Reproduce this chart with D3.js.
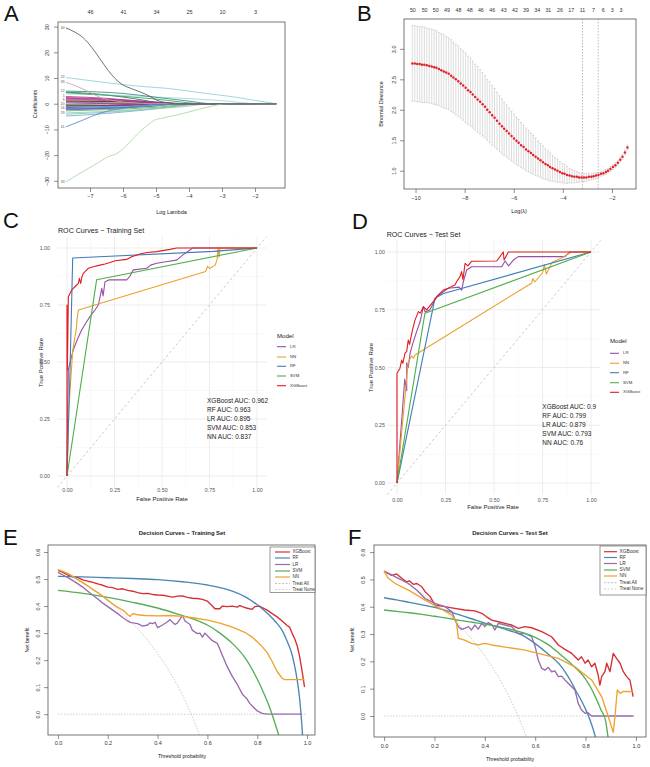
<!DOCTYPE html>
<html><head><meta charset="utf-8">
<script src="https://cdn.jsdelivr.net/npm/d3@7"></script>
<style>body{margin:0;background:#fff}svg{display:block}text{font-family:"Liberation Sans",Arial,sans-serif}</style>
</head><body><svg id="chart" width="650" height="767"></svg>
<script>
// ================= DATA =================
// Panel A: lasso coefficient paths (knots: [log lambda, coefficient])
const aTicksX = [-7,-6,-5,-4,-3,-2];
const aTopLabels = [46,41,34,25,10,3];
const aTicksY = [-30,-20,-10,0,10,20,30];
const aEndLambda = -1.36;
const aPaths = [
 {id:"40",col:"#555555",pts:[[-7.73,29.5],[-7.45,27.8],[-7.2,25.6],[-6.95,22],[-6.7,17.5],[-6.45,13],[-6.24,9.8],[-6.0,7.3],[-5.75,5.9],[-5.48,4.6],[-5.2,3.0],[-4.98,1.4],[-4.68,0.4],[-4.4,0]]},
 {id:"33",col:"#a9d79f",pts:[[-7.73,-30.4],[-7.4,-27.8],[-7.05,-25.2],[-6.7,-22.5],[-6.45,-20.6],[-6.2,-19.5],[-6.04,-18],[-5.8,-15],[-5.54,-11.5],[-5.25,-8.3],[-5.03,-6.3],[-4.8,-5.6],[-4.64,-5.1],[-4.3,-4.2],[-3.97,-3.1],[-3.46,-1.4],[-2.96,-0.1],[-2.8,0]]},
 {id:"22",col:"#8fcfd6",pts:[[-7.73,10.2],[-6.5,8.2],[-5.5,6.8],[-4.68,6.0],[-3.6,4.2],[-2.67,2.7],[-2.0,1.3],[-1.36,0]]},
 {id:"39",col:"#c9a0a3",pts:[[-7.73,8.3],[-7.4,6.8],[-7.05,4.7],[-6.6,2.0],[-6.2,1.0],[-5.6,0.3],[-5.2,0]]},
 {id:"12",col:"#2b8c88",pts:[[-7.73,4.9],[-6.8,4.6],[-6.0,4.0],[-5.0,2.5],[-4.0,1.0],[-3.3,0]]},
 {id:"41",col:"#5b86bd",pts:[[-7.73,-9.0],[-7.2,-6.3],[-6.7,-3.7],[-6.0,-1.8],[-5.3,-0.6],[-4.9,0]]},
 {id:"18",col:"#3c9e4c",pts:[[-7.73,4.3],[-6.5,3.3],[-5.0,1.8],[-4.2,0.6],[-3.6,0]]},
 {id:"27",col:"#9ad8de",pts:[[-7.73,3.8],[-6.0,3.2],[-5.0,2.6],[-3.0,1.2],[-1.9,0]]},
 {id:"5",col:"#c0308a",pts:[[-7.73,2.8],[-6.5,2.1],[-5.5,1.0],[-4.6,0]]},
 {id:"31",col:"#7b3fa0",pts:[[-7.73,2.1],[-6.3,1.6],[-5.0,0.7],[-4.3,0]]},
 {id:"9",col:"#d0409a",pts:[[-7.73,1.5],[-6.0,1.1],[-4.8,0.4],[-4.1,0]]},
 {id:"2",col:"#222222",pts:[[-7.73,1.0],[-6.5,0.9],[-5.2,0.6],[-4.5,0.2],[-4.0,0]]},
 {id:"14",col:"#d05050",pts:[[-7.73,0.6],[-6.0,0.3],[-5.0,0]]},
 {id:"36",col:"#3060c0",pts:[[-7.73,0.3],[-6.8,0.1],[-6.2,0]]},
 {id:"20",col:"#50b050",pts:[[-7.73,-0.3],[-7.0,-0.2],[-6.4,0]]},
 {id:"7",col:"#b02080",pts:[[-7.73,-0.8],[-6.2,-0.6],[-5.2,-0.3],[-4.7,0]]},
 {id:"25",col:"#40c0d0",pts:[[-7.73,-1.2],[-6.0,-1.0],[-4.8,-0.6],[-3.6,0]]},
 {id:"16",col:"#4070c0",pts:[[-7.73,-1.8],[-6.3,-1.4],[-5.2,-0.8],[-4.0,0]]},
 {id:"44",col:"#8050b0",pts:[[-7.73,-2.3],[-6.5,-1.9],[-5.5,-1.0],[-4.5,0]]},
 {id:"3",col:"#60b060",pts:[[-7.73,-2.8],[-6.5,-2.3],[-5.0,-1.4],[-3.7,0]]},
 {id:"29",col:"#98d090",pts:[[-7.73,-3.6],[-6.5,-3.0],[-5.5,-2.3],[-4.2,-1.2],[-3.3,0]]},
 {id:"11",col:"#70c8d8",pts:[[-7.73,-4.1],[-6.5,-3.3],[-5.5,-2.4],[-4.5,-1.2],[-3.5,0]]},
 {id:"34",col:"#80a8d8",pts:[[-7.73,-4.8],[-6.5,-3.8],[-5.0,-2.0],[-3.6,0]]},
 {id:"6",col:"#c04090",pts:[[-7.73,1.8],[-6.8,1.5],[-5.8,0.8],[-5.0,0]]},
 {id:"23",col:"#6a3a9a",pts:[[-7.73,-1.5],[-6.8,-1.2],[-5.8,-0.6],[-5.1,0]]},
 {id:"47",col:"#1f6f70",pts:[[-7.73,4.5],[-6.8,3.8],[-6.0,2.6],[-5.3,1.2],[-4.8,0]]},
 {id:"1",col:"#333333",pts:[[-7.73,-0.5],[-6.5,-0.6],[-5.5,-0.4],[-4.9,0]]},
 {id:"30",col:"#d04060",pts:[[-7.73,2.4],[-6.6,1.9],[-5.8,1.2],[-4.9,0]]},
 {id:"15",col:"#3070b0",pts:[[-7.73,-2.0],[-6.0,-1.6],[-5.0,-0.9],[-4.4,0]]},
 {id:"8",col:"#c0b040",pts:[[-7.73,1.2],[-6.5,0.8],[-5.5,0.3],[-5.0,0]]},
 {id:"21",col:"#a02878",pts:[[-7.73,-1.0],[-7.0,-0.9],[-6.0,-0.4],[-5.5,0]]}
];

// Panel B: cross-validation curve
const bLogLambda = [-10.13,-10.03,-9.93,-9.83,-9.74,-9.64,-9.54,-9.44,-9.34,-9.24,
 -9.15,-9.05,-8.95,-8.85,-8.75,-8.65,-8.55,-8.46,-8.36,-8.26,
 -8.16,-8.06,-7.96,-7.86,-7.76,-7.67,-7.57,-7.47,-7.37,-7.27,
 -7.17,-7.08,-6.98,-6.88,-6.78,-6.68,-6.58,-6.48,-6.39,-6.29,
 -6.19,-6.09,-5.99,-5.89,-5.80,-5.70,-5.60,-5.50,-5.40,-5.30,
 -5.21,-5.11,-5.01,-4.91,-4.81,-4.71,-4.61,-4.52,-4.42,-4.32,
 -4.22,-4.12,-4.02,-3.93,-3.83,-3.73,-3.63,-3.53,-3.43,-3.34,
 -3.24,-3.14,-3.04,-2.94,-2.84,-2.75,-2.65,-2.55,-2.45,-2.35,
 -2.25,-2.16,-2.06,-1.96,-1.86,-1.76,-1.66,-1.57,-1.47,-1.37];
const bMean = [2.76,2.76,2.75,2.75,2.74,2.74,2.73,2.72,2.71,2.70,
 2.69,2.67,2.65,2.63,2.61,2.59,2.56,2.53,2.50,2.47,
 2.43,2.40,2.36,2.32,2.29,2.25,2.21,2.17,2.13,2.09,
 2.05,2.00,1.96,1.91,1.87,1.82,1.77,1.73,1.69,1.65,
 1.61,1.57,1.53,1.49,1.46,1.42,1.39,1.35,1.32,1.29,
 1.26,1.23,1.20,1.17,1.14,1.11,1.09,1.06,1.04,1.02,
 1.00,0.98,0.96,0.95,0.93,0.92,0.91,0.90,0.90,0.89,
 0.89,0.89,0.89,0.90,0.90,0.91,0.92,0.93,0.95,0.96,
 0.98,1.00,1.03,1.06,1.09,1.13,1.18,1.23,1.30,1.38];
const bSE = [0.62,0.62,0.62,0.62,0.62,0.62,0.61,0.61,0.61,0.61,
 0.61,0.60,0.60,0.60,0.59,0.59,0.59,0.58,0.58,0.58,
 0.57,0.57,0.57,0.56,0.56,0.55,0.54,0.54,0.53,0.52,
 0.51,0.50,0.50,0.49,0.48,0.47,0.46,0.45,0.44,0.43,
 0.42,0.41,0.40,0.39,0.38,0.37,0.36,0.35,0.34,0.33,
 0.32,0.31,0.29,0.28,0.27,0.25,0.24,0.23,0.21,0.20,
 0.19,0.17,0.16,0.15,0.14,0.12,0.11,0.10,0.09,0.08,
 0.07,0.07,0.06,0.06,0.05,0.05,0.05,0.04,0.04,0.04,
 0.04,0.04,0.04,0.04,0.04,0.04,0.04,0.04,0.04,0.04];
const bTopPos = [-10.13,-9.65,-9.20,-8.74,-8.27,-7.81,-7.36,-6.90,-6.43,-5.97,-5.52,-5.06,-4.61,-4.14,-3.68,-3.22,-2.77,-2.38,-2.01,-1.65];
const bTopLabels = [50,50,50,49,48,48,46,46,43,42,39,34,31,26,17,11,7,6,3,3];
const bTicksX = [-10,-8,-6,-4,-2];
const bTicksY = [1.0,1.5,2.0,2.5,3.0];
const bVLines = [-3.20,-2.56];

// Panels C, D: ROC curves ([FPR, TPR])
const models = ["LR","NN","RF","SVM","XGBoost"];
const rocTrainLR = [[0,0],[0.004,0.30],[0.007,0.465],[0.02,0.51],[0.033,0.553],[0.055,0.60],[0.077,0.64],[0.10,0.672],[0.121,0.699],[0.147,0.728],[0.165,0.75],[0.174,0.786],[0.183,0.823],[0.19,0.79],[0.20,0.852],[0.22,0.86],[0.314,0.86],[0.33,0.875],[0.349,0.904],[0.42,0.911],[0.44,0.925],[0.472,0.933],[0.52,0.94],[0.577,0.947],[0.61,0.97],[0.647,0.991],[0.66,1],[1,1]];
const rocTrainNN = [[0,0],[0.01,0.3],[0.03,0.55],[0.042,0.611],[0.05,0.65],[0.052,0.68],[0.055,0.70],[0.06,0.728],[0.73,0.897],[0.74,0.92],[0.75,0.91],[0.78,0.925],[0.79,0.95],[0.795,1.0],[0.80,0.96],[0.805,1.0],[1,1]];
const rocTrainRF = [[0,0],[0.016,0.465],[0.03,0.956],[0.77,0.985],[1,1]];
const rocTrainSVM = [[0,0],[0.156,0.861],[1,1]];
const rocTrainXGB = [[0,0],[0,0.75],[0.002,0.465],[0.007,0.786],[0.025,0.816],[0.042,0.83],[0.06,0.845],[0.065,0.867],[0.072,0.845],[0.079,0.874],[0.086,0.889],[0.112,0.911],[0.138,0.918],[0.174,0.925],[0.2,0.93],[0.226,0.936],[0.253,0.944],[0.314,0.95],[0.34,0.962],[0.384,0.974],[0.42,0.98],[0.472,0.984],[0.542,0.994],[0.577,1],[1,1]];
const rocTestLR = [[0,0],[0.04,0.45],[0.05,0.40],[0.05,0.52],[0.058,0.50],[0.067,0.56],[0.08,0.60],[0.101,0.655],[0.119,0.698],[0.136,0.763],[0.145,0.74],[0.17,0.75],[0.205,0.807],[0.239,0.828],[0.263,0.843],[0.32,0.848],[0.333,0.835],[0.342,0.871],[0.359,0.922],[0.385,0.936],[0.54,0.936],[0.557,0.961],[0.575,0.94],[0.60,0.965],[0.625,0.98],[0.866,0.98],[0.89,1],[1,1]];
const rocTestNN = [[0,0],[0.058,0.525],[0.065,0.535],[0.076,0.55],[0.085,0.54],[0.093,0.554],[0.695,0.866],[0.70,0.885],[0.71,0.87],[0.75,0.91],[0.76,0.945],[0.77,0.905],[0.80,0.955],[0.85,0.975],[0.90,1],[1,1]];
const rocTestRF = [[0,0],[0.196,0.80],[0.24,0.82],[1,1]];
const rocTestSVM = [[0,0],[0.144,0.735],[1,1]];
const rocTestXGB = [[0,0],[0,0.475],[0.015,0.496],[0.024,0.532],[0.03,0.518],[0.041,0.561],[0.05,0.57],[0.058,0.619],[0.065,0.60],[0.076,0.648],[0.084,0.677],[0.093,0.706],[0.10,0.72],[0.11,0.742],[0.12,0.735],[0.136,0.763],[0.153,0.749],[0.187,0.785],[0.213,0.814],[0.239,0.835],[0.264,0.843],[0.28,0.85],[0.299,0.857],[0.307,0.871],[0.325,0.893],[0.333,0.915],[0.34,0.88],[0.351,0.951],[0.365,0.94],[0.385,0.96],[0.514,0.961],[0.548,1],[0.552,0.965],[0.574,1],[1,1]];
const aucOrder = ["XGBoost","RF","LR","SVM","NN"];
const aucTrain = ["0.962","0.963","0.895","0.853","0.837"];
const aucTest = ["0.9","0.799","0.879","0.793","0.76"];
const rocMajor = [0,0.25,0.5,0.75,1];
const rocMinor = [0.125,0.375,0.625,0.875];

// Panels E, F: decision curves ([threshold, net benefit])
const dcaNames = ["XGBoost","RF","LR","SVM","NN","Treat All","Treat None"];
const dcaTrainXGB = [[0,0.532],[0.02,0.525],[0.04,0.515],[0.06,0.508],[0.08,0.505],[0.10,0.497],[0.12,0.492],[0.14,0.488],[0.16,0.482],[0.18,0.477],[0.20,0.470],[0.22,0.468],[0.24,0.462],[0.26,0.464],[0.28,0.458],[0.30,0.455],[0.32,0.450],[0.34,0.446],[0.36,0.447],[0.38,0.443],[0.40,0.441],[0.42,0.440],[0.44,0.437],[0.46,0.433],[0.48,0.437],[0.50,0.438],[0.52,0.432],[0.54,0.429],[0.56,0.428],[0.58,0.425],[0.60,0.418],[0.62,0.400],[0.63,0.390],[0.65,0.390],[0.66,0.400],[0.68,0.398],[0.70,0.400],[0.72,0.396],[0.73,0.402],[0.74,0.398],[0.76,0.392],[0.78,0.388],[0.79,0.398],[0.81,0.400],[0.82,0.394],[0.84,0.385],[0.86,0.372],[0.88,0.360],[0.90,0.345],[0.92,0.328],[0.93,0.322],[0.94,0.300],[0.95,0.280],[0.96,0.255],[0.97,0.215],[0.98,0.160],[0.99,0.100]];
const dcaTrainRF = [[0,0.51],[0.1,0.508],[0.2,0.505],[0.3,0.502],[0.4,0.498],[0.5,0.49],[0.6,0.478],[0.7,0.455],[0.75,0.435],[0.8,0.405],[0.85,0.365],[0.88,0.335],[0.9,0.31],[0.92,0.27],[0.94,0.22],[0.95,0.18],[0.96,0.13],[0.97,0.06],[0.98,-0.05],[0.99,-0.2]];
const dcaTrainLR = [[0,0.525],[0.02,0.515],[0.04,0.505],[0.06,0.494],[0.08,0.482],[0.10,0.470],[0.12,0.455],[0.14,0.440],[0.16,0.426],[0.18,0.411],[0.20,0.398],[0.22,0.385],[0.24,0.372],[0.26,0.358],[0.28,0.345],[0.29,0.340],[0.30,0.338],[0.32,0.335],[0.34,0.326],[0.36,0.330],[0.37,0.338],[0.38,0.335],[0.39,0.340],[0.40,0.320],[0.42,0.330],[0.44,0.342],[0.45,0.350],[0.46,0.340],[0.47,0.332],[0.48,0.338],[0.49,0.352],[0.50,0.365],[0.51,0.345],[0.53,0.332],[0.54,0.310],[0.56,0.298],[0.57,0.300],[0.58,0.285],[0.59,0.300],[0.60,0.290],[0.62,0.272],[0.64,0.262],[0.65,0.240],[0.66,0.218],[0.68,0.175],[0.70,0.140],[0.72,0.110],[0.74,0.075],[0.75,0.065],[0.76,0.055],[0.77,0.040],[0.78,0.030],[0.80,0.012],[0.82,0.003],[0.84,0],[0.98,0]];
const dcaTrainSVM = [[0,0.458],[0.1,0.447],[0.2,0.432],[0.3,0.414],[0.4,0.393],[0.5,0.365],[0.55,0.35],[0.6,0.33],[0.65,0.30],[0.7,0.262],[0.75,0.21],[0.8,0.13],[0.83,0.07],[0.85,0.025],[0.87,-0.03],[0.89,-0.09],[0.9,-0.13]];
const dcaTrainNN = [[0,0.535],[0.02,0.528],[0.04,0.520],[0.06,0.510],[0.08,0.498],[0.10,0.487],[0.12,0.475],[0.14,0.462],[0.16,0.450],[0.18,0.437],[0.20,0.422],[0.22,0.408],[0.24,0.395],[0.26,0.385],[0.27,0.378],[0.28,0.368],[0.29,0.362],[0.30,0.372],[0.32,0.368],[0.35,0.365],[0.40,0.364],[0.45,0.365],[0.50,0.362],[0.55,0.356],[0.60,0.348],[0.65,0.337],[0.70,0.322],[0.75,0.303],[0.78,0.285],[0.80,0.268],[0.82,0.250],[0.84,0.228],[0.86,0.195],[0.88,0.158],[0.90,0.133],[0.91,0.128],[0.99,0.128]];
const dcaTrainAll = [[0,0.535],[0.05,0.511],[0.1,0.483],[0.15,0.453],[0.2,0.419],[0.25,0.380],[0.3,0.336],[0.35,0.285],[0.4,0.225],[0.45,0.155],[0.5,0.070],[0.55,-0.033],[0.6,-0.163]];
const dcaTrainNone = [[0,0],[1,0]];
const dcaTestXGB = [[0,0.53],[0.03,0.515],[0.05,0.52],[0.07,0.504],[0.09,0.49],[0.10,0.495],[0.116,0.482],[0.13,0.485],[0.15,0.473],[0.163,0.455],[0.183,0.437],[0.202,0.406],[0.229,0.402],[0.269,0.396],[0.32,0.388],[0.36,0.385],[0.388,0.376],[0.407,0.363],[0.427,0.351],[0.454,0.345],[0.48,0.339],[0.507,0.333],[0.533,0.321],[0.56,0.327],[0.586,0.323],[0.626,0.309],[0.665,0.29],[0.692,0.26],[0.718,0.244],[0.745,0.229],[0.771,0.205],[0.784,0.217],[0.798,0.193],[0.81,0.205],[0.824,0.18],[0.837,0.193],[0.85,0.15],[0.857,0.113],[0.864,0.144],[0.877,0.162],[0.884,0.193],[0.897,0.162],[0.91,0.229],[0.923,0.211],[0.937,0.193],[0.95,0.162],[0.963,0.144],[0.976,0.132],[0.989,0.071]];
const dcaTestRF = [[0,0.433],[0.05,0.425],[0.1,0.416],[0.15,0.407],[0.2,0.398],[0.25,0.385],[0.3,0.370],[0.35,0.355],[0.4,0.340],[0.45,0.326],[0.5,0.312],[0.55,0.295],[0.6,0.265],[0.65,0.228],[0.7,0.185],[0.72,0.160],[0.74,0.130],[0.76,0.095],[0.78,0.062],[0.80,0.025],[0.82,-0.02],[0.84,-0.08],[0.85,-0.12]];
const dcaTestLR = [[0,0.53],[0.057,0.504],[0.097,0.485],[0.13,0.46],[0.163,0.43],[0.202,0.412],[0.242,0.4],[0.269,0.382],[0.282,0.351],[0.295,0.327],[0.308,0.317],[0.322,0.322],[0.335,0.327],[0.347,0.315],[0.36,0.333],[0.374,0.318],[0.388,0.339],[0.40,0.327],[0.414,0.342],[0.427,0.335],[0.44,0.315],[0.454,0.339],[0.48,0.333],[0.507,0.327],[0.533,0.302],[0.56,0.302],[0.586,0.29],[0.6,0.254],[0.612,0.205],[0.626,0.174],[0.639,0.168],[0.652,0.178],[0.665,0.162],[0.678,0.165],[0.692,0.144],[0.705,0.146],[0.718,0.132],[0.745,0.107],[0.758,0.095],[0.771,0.046],[0.784,0.022],[0.798,0.01],[0.81,0.012],[0.824,0],[0.99,0]];
const dcaTestSVM = [[0,0.388],[0.05,0.383],[0.1,0.378],[0.15,0.372],[0.2,0.365],[0.25,0.358],[0.3,0.350],[0.35,0.343],[0.4,0.336],[0.45,0.328],[0.5,0.318],[0.55,0.305],[0.6,0.288],[0.65,0.262],[0.7,0.225],[0.75,0.185],[0.78,0.158],[0.8,0.135],[0.82,0.105],[0.84,0.068],[0.86,0.025],[0.88,-0.02],[0.89,-0.08],[0.9,-0.12]];
const dcaTestNN = [[0,0.53],[0.017,0.504],[0.044,0.485],[0.097,0.461],[0.163,0.424],[0.229,0.39],[0.269,0.37],[0.288,0.339],[0.295,0.284],[0.32,0.278],[0.347,0.266],[0.374,0.26],[0.40,0.266],[0.427,0.26],[0.56,0.241],[0.692,0.211],[0.758,0.18],[0.824,0.132],[0.864,0.071],[0.89,-0.002],[0.91,-0.06],[0.917,0.0],[0.926,0.095],[0.937,0.083],[0.95,0.09],[0.99,0.089]];
const dcaTestAll = [[0,0.532],[0.05,0.507],[0.1,0.480],[0.15,0.449],[0.2,0.415],[0.25,0.376],[0.3,0.331],[0.35,0.280],[0.4,0.220],[0.45,0.149],[0.5,0.064],[0.55,-0.040],[0.6,-0.17]];
const dcaTestNone = [[0,0],[1,0]];
const dcaTicksX = [0,0.2,0.4,0.6,0.8,1.0];
const dcaTicksY = [0,0.1,0.2,0.3,0.4,0.5,0.6];

// ================= DRAWING =================
const FONT = "'Liberation Sans', Arial, sans-serif";
const svg = d3.select("#chart");
svg.append("rect").attr("width",650).attr("height",767).attr("fill","#fff");

function txt(g,x,y,s,fs,o={}){
  const t=g.append("text").attr("x",x).attr("y",y).text(s).attr("font-size",fs).attr("fill",o.fill||"#222").attr("font-family",o.family||FONT);
  if(o.anchor) t.attr("text-anchor",o.anchor);
  if(o.weight) t.attr("font-weight",o.weight);
  if(o.base) t.attr("dominant-baseline",o.base);
  if(o.rot) t.attr("transform",`rotate(-90,${x},${y})`);
  return t;
}
function letter(s,x,y){ txt(svg,x,y,s,22,{family:"'Liberation Serif','Times New Roman',serif",fill:"#111"}); }
function rStyle(sel,fs){
  sel.select(".domain").remove();
  sel.selectAll(".tick line").attr("stroke","#444").attr("stroke-width",0.6);
  sel.selectAll(".tick text").attr("font-size",fs).attr("fill","#333").attr("font-family",FONT);
}
function rotLeft(sel,k){
  sel.selectAll(".tick text").attr("x",null).attr("dy",null).attr("text-anchor","middle")
    .attr("transform",`translate(${-k},0) rotate(-90)`);
}
function box(g,x0,y0,x1,y1){ g.append("rect").attr("x",x0).attr("y",y0).attr("width",x1-x0).attr("height",y1-y0).attr("fill","none").attr("stroke","#555").attr("stroke-width",0.8); }

// ---------- Panel A
(function(){
  const g=svg.append("g");
  const L=58,R=285,T=22,B=188;
  const x=d3.scaleLinear().domain([-7.97,-1.09]).range([L,R]);
  const y=d3.scaleLinear().domain([-32.8,31.8]).range([B,T]);
  g.append("clipPath").attr("id","clipA").append("rect").attr("x",L).attr("y",T).attr("width",R-L).attr("height",B-T);
  const pg=g.append("g").attr("clip-path","url(#clipA)");
  const line=d3.line().x(d=>x(d[0])).y(d=>y(d[1])).curve(d3.curveMonotoneX);
  aPaths.slice().reverse().forEach(p=>{
    const pts=p.pts.slice();
    if(pts[pts.length-1][0]<aEndLambda-0.01) pts.push([aEndLambda,0]);
    pg.append("path").attr("d",line(pts)).attr("fill","none").attr("stroke",p.col).attr("stroke-width",0.85);
  });
  // variable labels at left end (skip ones that would sit on top of another)
  const sorted=aPaths.slice().sort((a,b)=>b.pts[0][1]-a.pts[0][1]);
  let lastY=-1e9;
  sorted.forEach(p=>{
    const yy=y(p.pts[0][1]);
    if(yy-lastY>=3.3){ txt(g,x(p.pts[0][0])-1.5,yy,p.id,3.2,{anchor:"end",base:"middle",fill:"#444"}); lastY=yy; }
  });
  box(g,L,T,R,B);
  const ax=g.append("g").attr("transform",`translate(0,${B})`).call(d3.axisBottom(x).tickValues(aTicksX).tickSize(4).tickPadding(2.5).tickFormat(d3.format("d")));
  rStyle(ax,5.5);
  const at=g.append("g").attr("transform",`translate(0,${T})`).call(d3.axisTop(x).tickValues(aTicksX).tickSize(0).tickPadding(8).tickFormat((d,i)=>aTopLabels[i]));
  rStyle(at,5.5);
  const ay=g.append("g").attr("transform",`translate(${L},0)`).call(d3.axisLeft(y).tickValues(aTicksY).tickSize(4).tickFormat(d3.format("d")));
  rStyle(ay,5.5); rotLeft(ay,9);
  txt(g,171.5,213.5,"Log Lambda",5.5,{anchor:"middle"});
  txt(g,36.5,104,"Coefficients",5.5,{anchor:"middle",rot:true});
})();
letter("A",4,21);

// ---------- Panel B
(function(){
  const g=svg.append("g");
  const L=404,R=636,T=19,B=189;
  const x=d3.scaleLinear().domain([-10.47,-1.02]).range([L,R]);
  const y=d3.scaleLinear().domain([0.70,3.49]).range([B,T]);
  bLogLambda.forEach((l,i)=>{
    const hi=y(bMean[i]+bSE[i]), lo=y(bMean[i]-bSE[i]), xx=x(l);
    g.append("line").attr("x1",xx).attr("x2",xx).attr("y1",hi).attr("y2",lo).attr("stroke","#c4c4c4").attr("stroke-width",0.6);
    g.append("line").attr("x1",xx-1.1).attr("x2",xx+1.1).attr("y1",hi).attr("y2",hi).attr("stroke","#c4c4c4").attr("stroke-width",0.6);
    g.append("line").attr("x1",xx-1.1).attr("x2",xx+1.1).attr("y1",lo).attr("y2",lo).attr("stroke","#c4c4c4").attr("stroke-width",0.6);
  });
  bVLines.forEach(v=>g.append("line").attr("x1",x(v)).attr("x2",x(v)).attr("y1",T).attr("y2",B).attr("stroke","#8a8a8a").attr("stroke-width",0.6).attr("stroke-dasharray","1.5,1.5"));
  bLogLambda.forEach((l,i)=>g.append("circle").attr("cx",x(l)).attr("cy",y(bMean[i])).attr("r",1.25).attr("fill","#e0232a"));
  box(g,L,T,R,B);
  const ax=g.append("g").attr("transform",`translate(0,${B})`).call(d3.axisBottom(x).tickValues(bTicksX).tickSize(4).tickPadding(3.5).tickFormat(d3.format("d")));
  rStyle(ax,5.5);
  const at=g.append("g").attr("transform",`translate(0,${T})`).call(d3.axisTop(x).tickValues(bTopPos).tickSize(0).tickPadding(7.5).tickFormat((d,i)=>bTopLabels[i]));
  rStyle(at,5.3);
  const ay=g.append("g").attr("transform",`translate(${L},0)`).call(d3.axisLeft(y).tickValues(bTicksY).tickSize(4).tickFormat(d3.format(".1f")));
  rStyle(ay,5.5); rotLeft(ay,8.5);
  txt(g,519,213,"Log(\u03bb)",5.5,{anchor:"middle"});
  txt(g,382.5,104,"Binomial Deviance",5.5,{anchor:"middle",rot:true});
})();
letter("B",357,21);

// ---------- ROC panels
const rocCols = ["#984EA3","#EBA12E","#3F7DB6","#4DAF4A","#E41A1C"];
function rocPanel(o){
  const g=svg.append("g");
  const x=d3.scaleLinear().domain([-0.05,1.05]).range(o.xr);
  const y=d3.scaleLinear().domain([-0.05,1.05]).range(o.yr);
  const [L,R]=o.xr, [B,T]=o.yr;
  rocMinor.forEach(v=>{
    g.append("line").attr("x1",x(v)).attr("x2",x(v)).attr("y1",T).attr("y2",B).attr("stroke","#f2f2f2").attr("stroke-width",0.5);
    g.append("line").attr("x1",L).attr("x2",R).attr("y1",y(v)).attr("y2",y(v)).attr("stroke","#f2f2f2").attr("stroke-width",0.5);
  });
  rocMajor.forEach(v=>{
    g.append("line").attr("x1",x(v)).attr("x2",x(v)).attr("y1",T).attr("y2",B).attr("stroke","#e8e8e8").attr("stroke-width",0.8);
    g.append("line").attr("x1",L).attr("x2",R).attr("y1",y(v)).attr("y2",y(v)).attr("stroke","#e8e8e8").attr("stroke-width",0.8);
  });
  g.append("line").attr("x1",x(-0.05)).attr("y1",y(-0.05)).attr("x2",x(1.05)).attr("y2",y(1.05)).attr("stroke","#c2c2c2").attr("stroke-width",0.9).attr("stroke-dasharray","2.5,2.5");
  const line=d3.line().x(d=>x(d[0])).y(d=>y(d[1]));
  o.data.forEach((d,i)=>g.append("path").attr("d",line(d)).attr("fill","none").attr("stroke",rocCols[i]).attr("stroke-width",1.1).attr("stroke-linejoin","round"));
  const ax=g.append("g").attr("transform",`translate(0,${B})`).call(d3.axisBottom(x).tickValues(rocMajor).tickSize(0).tickPadding(o.xPad).tickFormat(d3.format(".2f")));
  ax.select(".domain").remove(); ax.selectAll("text").attr("font-size",5.3).attr("fill","#555").attr("font-family",FONT);
  const ay=g.append("g").attr("transform",`translate(${L},0)`).call(d3.axisLeft(y).tickValues(rocMajor).tickSize(0).tickPadding(o.yPad).tickFormat(d3.format(".2f")));
  ay.select(".domain").remove(); ay.selectAll("text").attr("font-size",5.3).attr("fill","#555").attr("font-family",FONT);
  txt(g,o.title[0],o.title[1],o.titleText,7.1,{fill:"#222"});
  txt(g,o.xt[0],o.xt[1],"False Positive Rate",6,{anchor:"middle"});
  txt(g,o.yt[0],o.yt[1],"True Positive Rate",6,{anchor:"middle",rot:true});
  txt(g,o.leg[0],o.legTitleY,"Model",6.1,{base:"middle"});
  models.forEach((m,i)=>{
    g.append("line").attr("x1",o.leg[0]).attr("x2",o.leg[0]+9).attr("y1",o.legY[i]).attr("y2",o.legY[i]).attr("stroke",rocCols[i]).attr("stroke-width",1.1);
    txt(g,o.leg[0]+13,o.legY[i],m,4.3,{base:"middle",fill:"#333"});
  });
  aucOrder.forEach((m,i)=>txt(g,o.auc[0],o.auc[1]+i*9,`${m} AUC: ${o.aucVals[i]}`,6.5,{base:"middle",fill:"#222"}));
}
rocPanel({xr:[57.5,266.5],yr:[487.4,236.6],xPad:1.2,yPad:7.5,data:[rocTrainLR,rocTrainNN,rocTrainRF,rocTrainSVM,rocTrainXGB],
  title:[58,232.5],titleText:"ROC Curves \u2212 Training Set",xt:[162,500.5],yt:[43,362.5],
  leg:[277],legTitleY:336.7,legY:[346.7,357,366.3,376,385.7],auc:[207,401],aucVals:aucTrain});
letter("C",3,228);
rocPanel({xr:[387.3,600.7],yr:[494.6,240.4],xPad:3.5,yPad:2.3,data:[rocTestLR,rocTestNN,rocTestRF,rocTestSVM,rocTestXGB],
  title:[386.7,237],titleText:"ROC Curves \u2212 Test Set",xt:[493,509],yt:[373,367.5],
  leg:[610],legTitleY:341.7,legY:[353.3,363.3,372.7,382.7,392.3],auc:[542.3,407.3],aucVals:aucTest});
letter("D",352,228.5);

// ---------- DCA panels
const dcaCols = ["#D42F33","#4A86B4","#9A6BAE","#55AE57","#F0A22E","#b8b8c8","#d8c8c8"];
function dcaPanel(o){
  const g=svg.append("g");
  const [L,R]=o.xr,[B,T]=o.yr;
  const x=d3.scaleLinear().domain(o.xd).range(o.xr);
  const y=d3.scaleLinear().domain([-0.077,0.626]).range(o.yr);
  g.append("clipPath").attr("id",o.id).append("rect").attr("x",L).attr("y",T).attr("width",R-L).attr("height",B-T);
  const pg=g.append("g").attr("clip-path",`url(#${o.id})`);
  const lin=d3.line().x(d=>x(d[0])).y(d=>y(d[1]));
  const smooth=d3.line().x(d=>x(d[0])).y(d=>y(d[1])).curve(d3.curveMonotoneX);
  pg.append("path").attr("d",lin(o.none)).attr("fill","none").attr("stroke","#c8c8c8").attr("stroke-width",0.9).attr("stroke-dasharray","1.5,1.5");
  pg.append("path").attr("d",smooth(o.all)).attr("fill","none").attr("stroke","#c4c4c4").attr("stroke-width",0.9).attr("stroke-dasharray","1.5,1.5");
  [0,1,2,3,4].forEach(i=>{
    const gen = (i===1||i===3)?smooth:lin;
    pg.append("path").attr("d",gen(o.data[i])).attr("fill","none").attr("stroke",dcaCols[i]).attr("stroke-width",1.35).attr("stroke-linejoin","round");
  });
  box(g,L,T,R,B);
  const ax=g.append("g").attr("transform",`translate(0,${B})`).call(d3.axisBottom(x).tickValues(dcaTicksX).tickSize(4).tickPadding(o.xPad).tickFormat(d3.format(".1f")));
  rStyle(ax,5.5);
  const ay=g.append("g").attr("transform",`translate(${L},0)`).call(d3.axisLeft(y).tickValues(dcaTicksY).tickSize(4).tickFormat(d3.format(".1f")));
  rStyle(ay,5.5); rotLeft(ay,o.yk);
  txt(g,o.title[0],o.title[1],o.titleText,5.9,{anchor:"middle",weight:"bold"});
  txt(g,o.xt[0],o.xt[1],"Threshold probability",5.2,{anchor:"middle"});
  txt(g,o.yt[0],o.yt[1],"Net benefit",5.2,{anchor:"middle",rot:true});
  const lb=o.legBox;
  g.append("rect").attr("x",lb[0]).attr("y",lb[1]).attr("width",lb[2]-lb[0]).attr("height",lb[3]-lb[1]).attr("fill","#fff").attr("stroke","#555").attr("stroke-width",0.6);
  dcaNames.forEach((n,i)=>{
    const ln=g.append("line").attr("x1",o.legKey[0]).attr("x2",o.legKey[1]).attr("y1",o.legY[i]).attr("y2",o.legY[i]).attr("stroke",dcaCols[i]).attr("stroke-width",i<5?1.2:0.9);
    if(i>=5) ln.attr("stroke-dasharray","2,1.5");
    txt(g,o.legKey[1]+2.5,o.legY[i],n,o.legFs,{base:"middle",fill:"#333"});
  });
}
dcaPanel({id:"clipE",xr:[48,315],yr:[735,545],xd:[-0.04,1.032],xPad:2.5,yk:8,
  data:[dcaTrainXGB,dcaTrainRF,dcaTrainLR,dcaTrainSVM,dcaTrainNN],all:dcaTrainAll,none:dcaTrainNone,
  title:[182,535],titleText:"Decision Curves \u2212 Training Set",xt:[182,758],yt:[28.5,640],
  legBox:[270,547,315,592.5],legKey:[275,290],legY:[552,558,564.5,571,577,583.5,589.5],legFs:4.5});
letter("E",3,545);
dcaPanel({id:"clipF",xr:[374,646],yr:[737,545],xd:[-0.04,1.04],xPad:3.5,yk:9.5,
  data:[dcaTestXGB,dcaTestRF,dcaTestLR,dcaTestSVM,dcaTestNN],all:dcaTestAll,none:dcaTestNone,
  title:[510,535],titleText:"Decision Curves \u2212 Test Set",xt:[510,761],yt:[354,640],
  legBox:[600,546,646,595],legKey:[604,617],legY:[551.7,557.5,563.5,570,576,582.7,589],legFs:4.8});
letter("F",348,545);
</script></body></html>
